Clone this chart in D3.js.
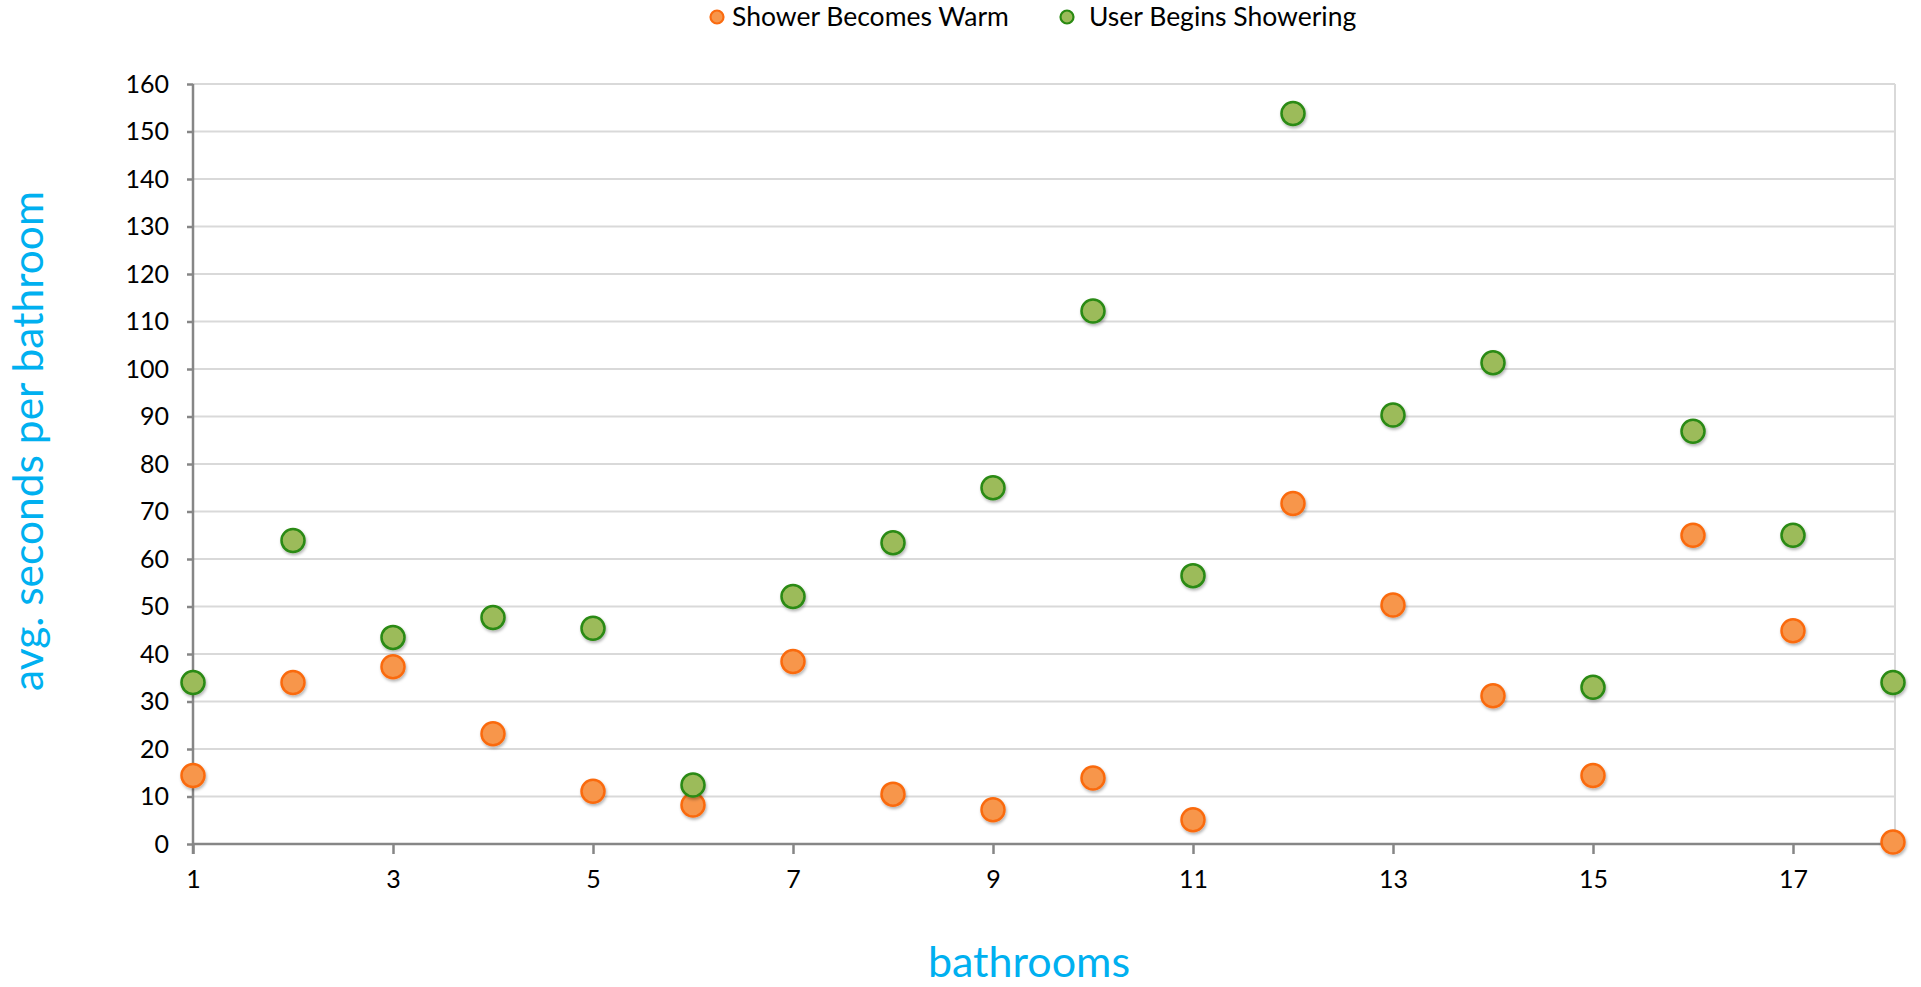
<!DOCTYPE html>
<html>
<head>
<meta charset="utf-8">
<script src="https://cdn.jsdelivr.net/npm/d3@7"></script>
<style>
  html, body { margin: 0; padding: 0; background: #fff; }
  svg { display: block; font-family: Lato, "Liberation Sans", sans-serif; }
</style>
</head>
<body>
<svg id="chart" width="1921" height="987"></svg>
<script>
// Bathroom index along the x axis
const bathrooms = [1, 2, 3, 4, 5, 6, 7, 8, 9, 10, 11, 12, 13, 14, 15, 16, 17, 18];

// Average seconds until the shower water becomes warm
const showerWarm = [14.4, 34.0, 37.3, 23.2, 11.1, 8.2, 38.4, 10.5, 7.2, 13.9, 5.1, 71.7, 50.3, 31.2, 14.4, 65.0, 44.9, 0.4];

// Average seconds until the user begins showering
const userBegins = [34.0, 63.9, 43.5, 47.7, 45.4, 12.4, 52.1, 63.4, 75.0, 112.2, 56.5, 153.8, 90.3, 101.3, 33.0, 86.9, 65.0, 34.0];

const seriesNames = ["Shower Becomes Warm", "User Begins Showering"];
const xTickValues = [1, 3, 5, 7, 9, 11, 13, 15, 17];
const yTickValues = [0, 10, 20, 30, 40, 50, 60, 70, 80, 90, 100, 110, 120, 130, 140, 150, 160];

const colors = [
  { fill: "#F7964B", stroke: "#FA6B10" },
  { fill: "#9CBB5A", stroke: "#2A8A12" }
];

const svg = d3.select("#chart");
const plot = { left: 193, right: 1893, top: 84, bottom: 844 };

const x = d3.scaleLinear().domain([1, 18]).range([plot.left, plot.right]);
const y = d3.scaleLinear().domain([0, 160]).range([plot.bottom, plot.top]);

// soft shadow under markers
const defs = svg.append("defs");
const f = defs.append("filter").attr("id", "shadow")
  .attr("x", "-50%").attr("y", "-50%").attr("width", "200%").attr("height", "200%");
f.append("feDropShadow").attr("dx", 1).attr("dy", 2).attr("stdDeviation", 1.5)
  .attr("flood-color", "#000").attr("flood-opacity", 0.3);

// horizontal gridlines
svg.append("g")
  .selectAll("line")
  .data(yTickValues.filter(d => d > 0))
  .join("line")
  .attr("x1", plot.left).attr("x2", plot.right + 2)
  .attr("y1", d => y(d)).attr("y2", d => y(d))
  .attr("stroke", "#D9D9D9").attr("stroke-width", 2);

// right border of plot area
svg.append("line")
  .attr("x1", plot.right + 2).attr("x2", plot.right + 2)
  .attr("y1", plot.top).attr("y2", plot.bottom)
  .attr("stroke", "#D9D9D9").attr("stroke-width", 2);

// y axis
const yAxis = svg.append("g")
  .attr("transform", `translate(${plot.left},0)`)
  .call(d3.axisLeft(y).tickValues(yTickValues).tickSize(6).tickPadding(18));
yAxis.select(".domain").attr("stroke", "#868686").attr("stroke-width", 2.5)
  .attr("d", `M0,${plot.top}V${plot.bottom + 10}`);
yAxis.selectAll(".tick line").attr("stroke", "#868686").attr("stroke-width", 2.5);
yAxis.selectAll(".tick text").attr("font-size", 25).attr("fill", "#000")
  .attr("font-family", "Lato, sans-serif");

// x axis
const xAxis = svg.append("g")
  .attr("transform", `translate(0,${plot.bottom})`)
  .call(d3.axisBottom(x).tickValues(xTickValues).tickSize(10).tickPadding(16));
xAxis.select(".domain").attr("stroke", "#868686").attr("stroke-width", 2.5)
  .attr("d", `M${plot.left},0H${plot.right}`);
xAxis.selectAll(".tick line").attr("stroke", "#868686").attr("stroke-width", 2.5);
xAxis.selectAll(".tick text").attr("font-size", 25).attr("fill", "#000")
  .attr("font-family", "Lato, sans-serif");

// markers
const series = [showerWarm, userBegins];
series.forEach((vals, i) => {
  svg.append("g")
    .attr("filter", "url(#shadow)")
    .selectAll("circle")
    .data(vals.map((v, j) => ({ b: bathrooms[j], v })))
    .join("circle")
    .attr("cx", d => x(d.b))
    .attr("cy", d => y(d.v))
    .attr("r", 11.5)
    .attr("fill", colors[i].fill)
    .attr("stroke", colors[i].stroke)
    .attr("stroke-width", 2.5);
});

// axis titles
svg.append("text")
  .attr("transform", `translate(43,441) rotate(-90)`)
  .attr("text-anchor", "middle")
  .attr("font-size", 42.5)
  .attr("fill", "#00B0F0")
  .text("avg. seconds per bathroom");

svg.append("text")
  .attr("x", 1029).attr("y", 977)
  .attr("text-anchor", "middle")
  .attr("font-size", 43)
  .attr("fill", "#00B0F0")
  .text("bathrooms");

// legend
const legendItems = [
  { name: seriesNames[0], cx: 717, tx: 732 },
  { name: seriesNames[1], cx: 1067, tx: 1089 }
];
const lg = svg.append("g");
legendItems.forEach((it, i) => {
  lg.append("circle").attr("cx", it.cx).attr("cy", 17).attr("r", 6.5)
    .attr("fill", colors[i].fill).attr("stroke", colors[i].stroke).attr("stroke-width", 2.2);
  lg.append("text").attr("x", it.tx).attr("y", 26)
    .attr("font-size", 26.5).attr("fill", "#000")
    .text(it.name);
});
</script>
</body>
</html>
